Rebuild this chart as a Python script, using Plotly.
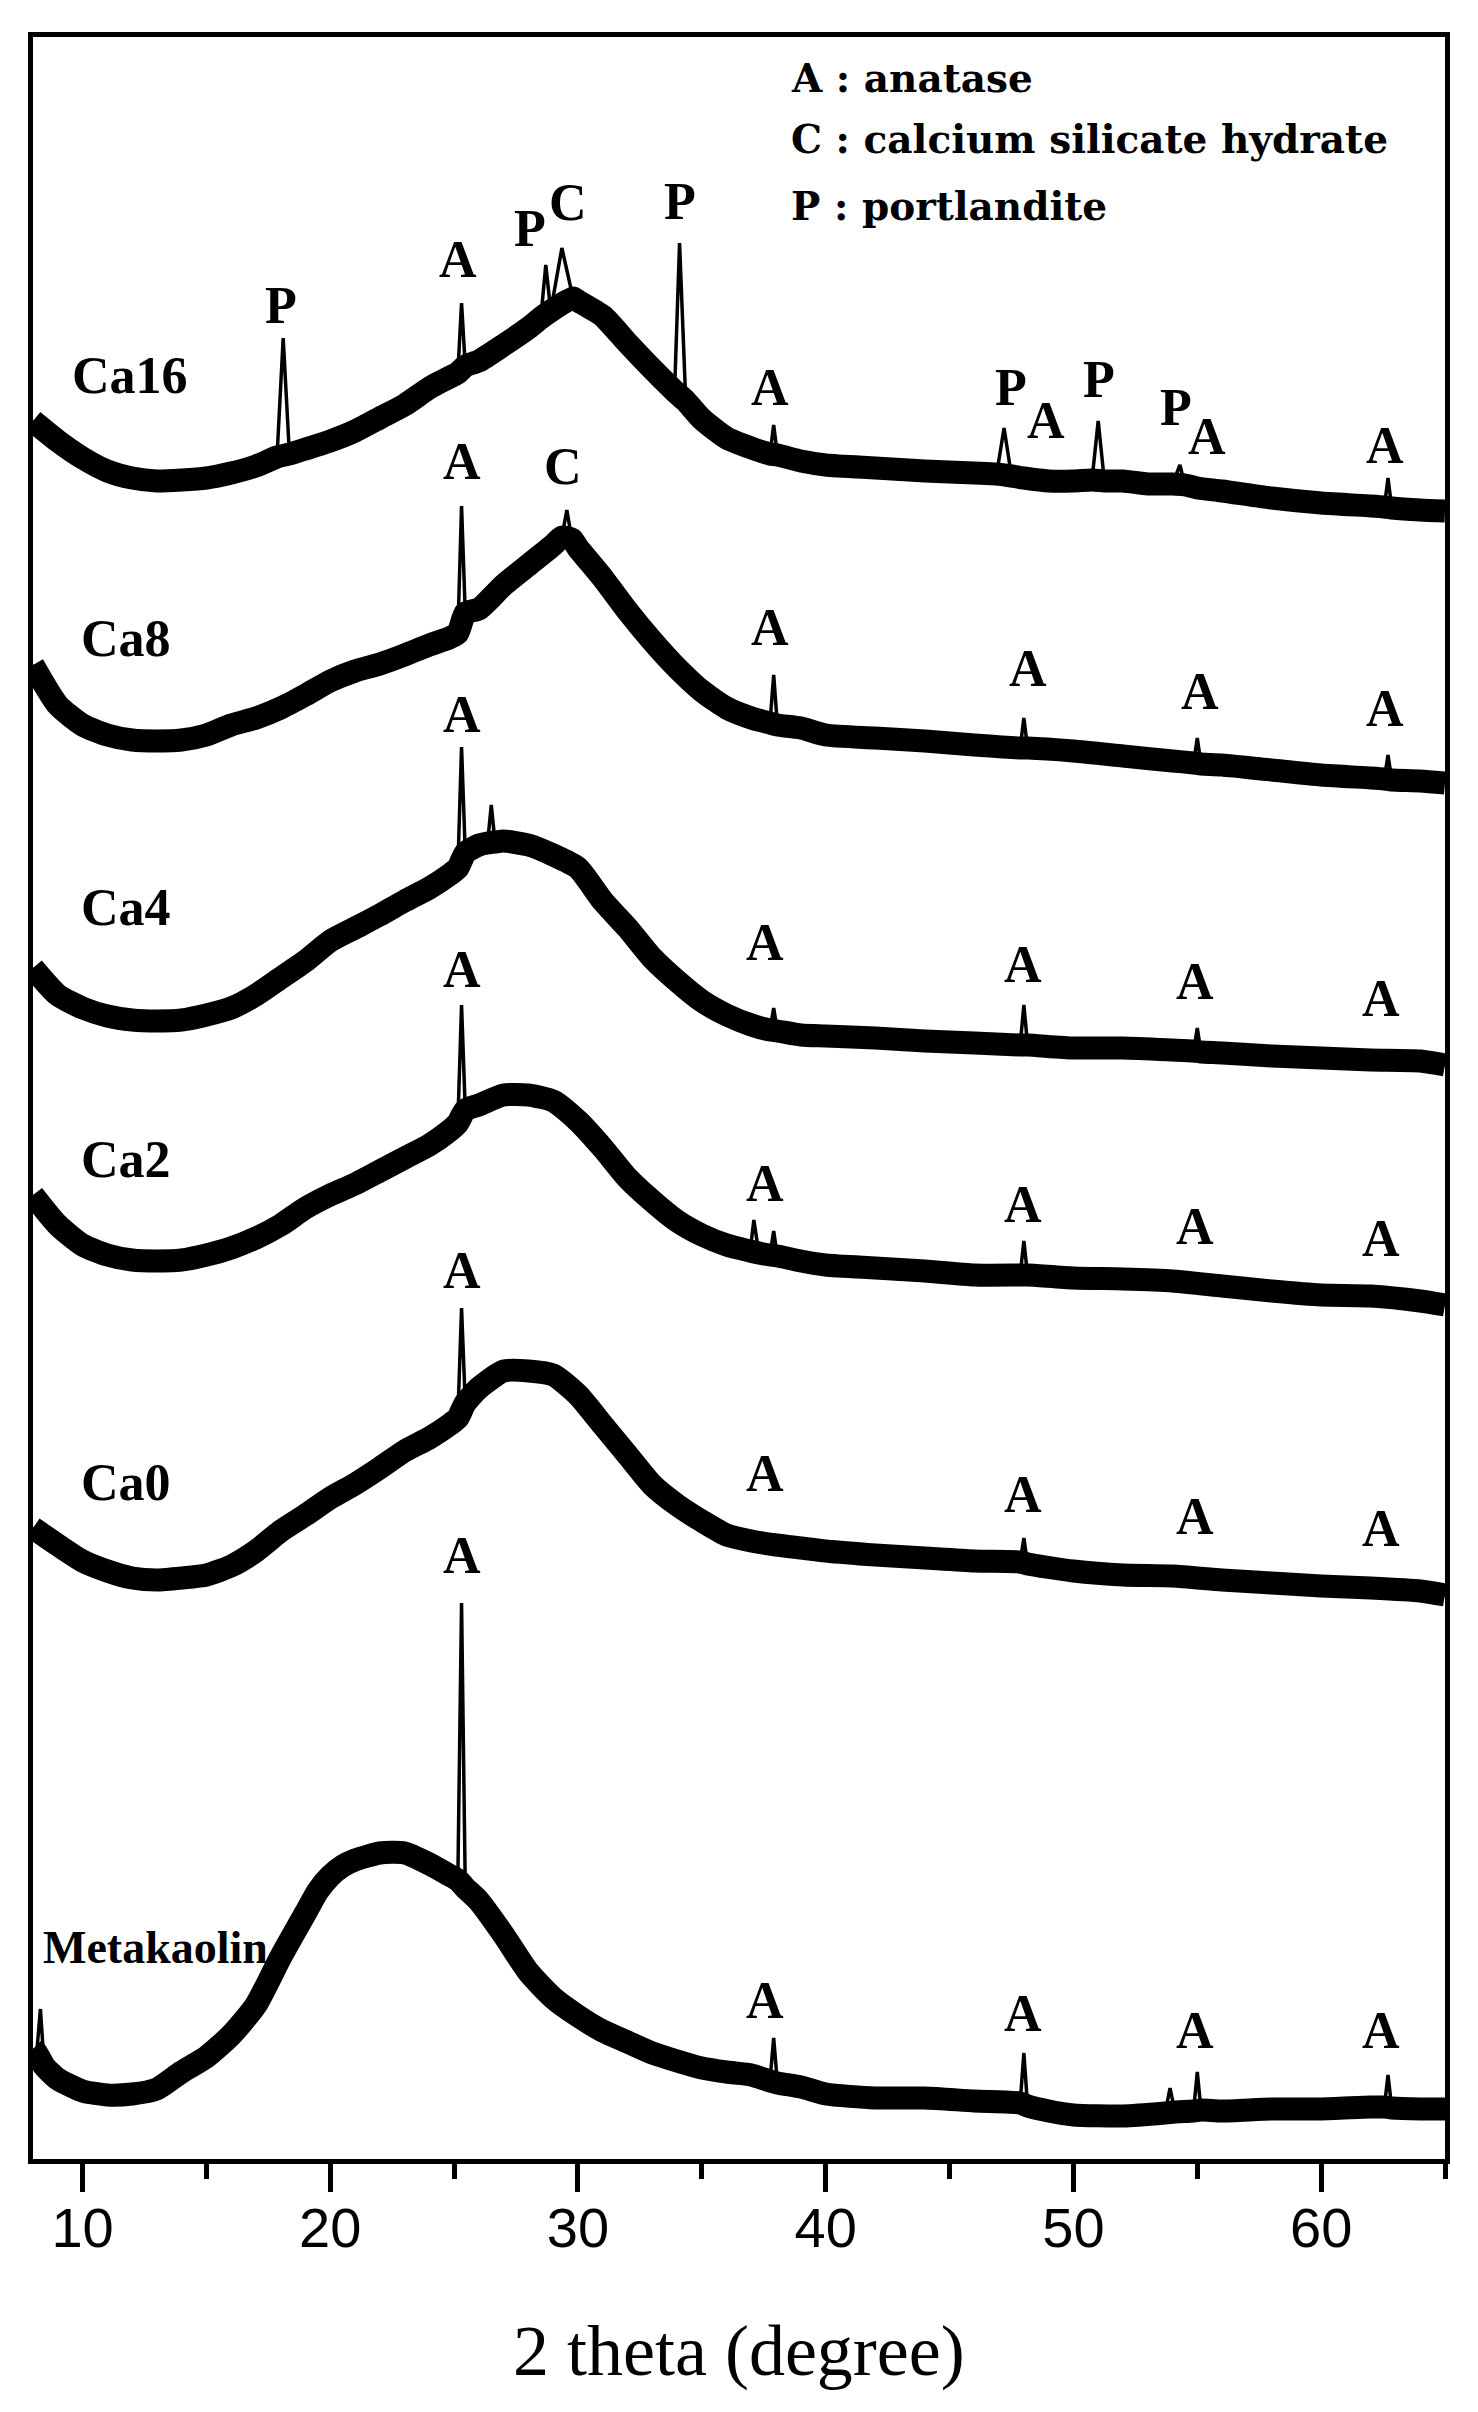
import plotly.graph_objects as go

# ---------------- data (intensity in arbitrary, stacked units) ----------------
x_range = [8, 65]
x_ticks = [10, 20, 30, 40, 50, 60]

samples = ["Ca16", "Ca8", "Ca4", "Ca2", "Ca0", "Metakaolin"]

# Ca16
ca16_base_x = [8, 9, 10, 11, 12, 13, 14, 15, 16, 17, 17.85, 18.35, 19, 20, 21, 22, 23, 24, 25, 25.15, 25.45,
               26, 27, 28, 28.5, 28.9, 29.8, 30, 31, 32, 33, 33.9, 34.35, 35, 36, 37, 37.75, 38.05, 39, 40,
               42, 44, 46, 46.9, 47.5, 48, 49, 50, 50.75, 51.25, 52, 53, 54, 54.5, 55, 56, 58, 60, 62,
               62.55, 62.85, 64, 65]
ca16_base_y = [1740, 1720, 1703, 1690, 1683, 1680, 1681, 1683, 1688, 1695, 1704, 1707, 1712, 1720, 1730, 1743,
               1756, 1773, 1786, 1788, 1795, 1800, 1816, 1833, 1843, 1850, 1863, 1860, 1845, 1818, 1792, 1770,
               1760, 1742, 1723, 1713, 1707, 1706, 1700, 1696, 1693, 1690, 1688, 1687, 1685, 1683, 1680, 1680,
               1681, 1680, 1680, 1677, 1677, 1676, 1673, 1670, 1663, 1658, 1655, 1654, 1653, 1651, 1650]
ca16_peak_x = [18.1, 25.3, 28.7, 29.35, 34.1, 37.9, 47.2, 51.0, 54.3, 62.7]
ca16_peak_y = [1823, 1858, 1896, 1913, 1918, 1736, 1733, 1740, 1696, 1683]

# Ca8
ca8_base_x = [8, 9, 10, 11, 12, 13, 14, 15, 16, 17, 18, 19, 20, 21, 22, 23, 24, 24.8, 25.15, 25.45, 26, 27,
              28, 29, 29.35, 29.75, 30, 31, 32, 33, 34, 35, 36, 37, 37.75, 38.05, 39, 40, 42, 44, 46, 47.85,
              48.15, 50, 52, 54, 54.85, 55.15, 56, 58, 60, 62, 62.55, 62.85, 64, 65]
ca8_base_y = [1496, 1456, 1436, 1426, 1421, 1420, 1421, 1426, 1436, 1443, 1453, 1466, 1480, 1490, 1497, 1506,
              1516, 1523, 1528, 1548, 1552, 1576, 1596, 1616, 1624, 1622, 1613, 1583, 1550, 1520, 1493, 1470,
              1453, 1443, 1438, 1436, 1433, 1426, 1423, 1420, 1416, 1413, 1413, 1410, 1405, 1400, 1398, 1397,
              1396, 1391, 1386, 1383, 1382, 1381, 1380, 1378]
ca8_peak_x = [25.3, 29.55, 37.9, 48.0, 55.0, 62.7]
ca8_peak_y = [1655, 1651, 1486, 1443, 1423, 1406]

# Ca4
ca4_base_x = [8, 9, 10, 11, 12, 13, 14, 15, 16, 17, 18, 19, 20, 21, 22, 23, 24, 24.8, 25.15, 25.45, 26,
              26.35, 26.65, 27, 28, 29, 30, 31, 32, 33, 34, 35, 36, 37, 37.75, 38.05, 39, 40, 42, 44, 46,
              47.85, 48.15, 50, 52, 54, 54.85, 55.15, 56, 58, 60, 62, 64, 65]
ca4_base_y = [1193, 1166, 1153, 1145, 1141, 1140, 1141, 1146, 1153, 1166, 1183, 1200, 1220, 1233, 1246, 1260,
              1273, 1286, 1293, 1308, 1316, 1318, 1319, 1320, 1316, 1306, 1293, 1260, 1233, 1203, 1180, 1160,
              1146, 1136, 1131, 1130, 1126, 1125, 1123, 1120, 1118, 1116, 1116, 1113, 1113, 1111, 1110, 1109,
              1108, 1105, 1103, 1101, 1100, 1096]
ca4_peak_x = [25.3, 26.5, 37.9, 48.0, 55.0]
ca4_peak_y = [1414, 1356, 1153, 1156, 1133]

# Ca2
ca2_base_x = [8, 9, 10, 11, 12, 13, 14, 15, 16, 17, 18, 19, 20, 21, 22, 23, 24, 24.8, 25.15, 25.45, 26, 27,
              28, 29, 30, 31, 32, 33, 34, 35, 36, 36.95, 37.3, 37.75, 38.05, 39, 40, 42, 44, 46, 47.85, 48.15,
              50, 52, 54, 56, 58, 60, 62, 64, 65]
ca2_base_y = [966, 936, 916, 906, 901, 900, 901, 906, 913, 923, 936, 953, 966, 977, 990, 1003, 1016, 1030,
              1038, 1051, 1056, 1066, 1066, 1060, 1040, 1013, 983, 960, 940, 926, 916, 910, 908, 906, 905,
              900, 896, 893, 890, 886, 886, 886, 883, 882, 880, 875, 870, 866, 865, 860, 856]
ca2_peak_x = [25.3, 37.1, 37.9, 48.0]
ca2_peak_y = [1156, 941, 930, 920]

# Ca0
ca0_base_x = [8, 9, 10, 11, 12, 13, 14, 15, 16, 17, 18, 19, 20, 21, 22, 23, 24, 24.8, 25.15, 25.45, 26, 27,
              28, 29, 30, 31, 32, 33, 34, 35, 36, 37, 38, 39, 40, 42, 44, 46, 47.85, 48.15, 50, 52, 54, 56,
              58, 60, 62, 64, 65]
ca0_base_y = [633, 616, 600, 590, 583, 581, 583, 586, 595, 610, 630, 646, 663, 677, 693, 710, 723, 736, 743,
              758, 773, 790, 790, 786, 766, 736, 706, 676, 656, 640, 626, 620, 616, 613, 610, 606, 603, 600,
              599, 597, 590, 586, 585, 581, 578, 575, 573, 570, 566]
ca0_peak_x = [25.3, 48.0]
ca0_peak_y = [853, 623]

# Metakaolin
mk_base_x = [8, 8.15, 8.45, 9, 10, 11, 12, 13, 14, 15, 16, 17, 18, 19, 19.5, 20, 20.5, 21, 22, 23, 24, 24.8,
             25.15, 25.45, 26, 27, 28, 29, 30, 31, 32, 33, 34, 35, 36, 37, 37.75, 38.05, 39, 40, 42, 44, 46,
             47.85, 48.15, 49, 50, 52, 53.7, 54.1, 54.85, 55.15, 56, 58, 60, 62, 62.55, 62.85, 64, 65]
mk_base_y = [112, 108, 95, 82, 70, 66, 67, 72, 89, 104, 126, 156, 204, 248, 270, 285, 295, 301, 308, 308, 297,
             286, 281, 273, 260, 226, 189, 163, 145, 130, 119, 108, 100, 93, 89, 86, 80, 78, 74, 67, 63, 63,
             60, 58, 55, 50, 46, 45, 48, 49, 50, 51, 50, 52, 52, 54, 54, 53, 52, 52]
mk_peak_x = [8.3, 25.3, 37.9, 48.0, 53.9, 55.0, 62.7]
mk_peak_y = [152, 558, 123, 108, 73, 89, 86]

# sample name labels (left x in degrees, y)
sample_label_x = [9.48, 9.86, 9.86, 9.86, 9.86, 8.31]
sample_label_y = [1786, 1523, 1254, 1002, 679, 214]

# phase letters above reflections
phase_text = (["P", "A", "P", "C", "P", "A", "P", "A", "P", "P", "A", "A"] +
              ["A", "C", "A", "A", "A", "A"] +
              ["A", "A", "A", "A", "A"] +
              ["A", "A", "A", "A", "A"] +
              ["A", "A", "A", "A", "A"] +
              ["A", "A", "A", "A", "A"])
phase_x = ([18.02, 25.15, 28.07, 29.58, 34.1, 37.74, 47.5, 48.9, 51.02, 54.15, 55.4, 62.59] +
           [25.3, 29.4, 37.74, 48.17, 55.1, 62.59] +
           [25.3, 37.55, 47.98, 54.92, 62.4] +
           [25.3, 37.55, 47.98, 54.9, 62.4] +
           [25.3, 37.55, 47.98, 54.9, 62.4] +
           [25.3, 37.55, 47.98, 54.9, 62.4])
phase_y = ([1856, 1902, 1933, 1959, 1960, 1774, 1774, 1741, 1782, 1754, 1725, 1716] +
           [1700, 1695, 1534, 1493, 1470, 1453] +
           [1447, 1219, 1197, 1180, 1163] +
           [1192, 978, 957, 935, 923] +
           [891, 688, 667, 645, 633] +
           [606, 161, 148, 131, 131])

legend_lines = ["A : anatase", "C : calcium silicate hydrate", "P : portlandite"]
legend_x = 38.5
legend_y = [2083, 2022, 1955]

x_title = "2 theta (degree)"

# ---------------- figure ----------------
series = [
    (ca16_base_x, ca16_base_y, ca16_peak_x, ca16_peak_y),
    (ca8_base_x, ca8_base_y, ca8_peak_x, ca8_peak_y),
    (ca4_base_x, ca4_base_y, ca4_peak_x, ca4_peak_y),
    (ca2_base_x, ca2_base_y, ca2_peak_x, ca2_peak_y),
    (ca0_base_x, ca0_base_y, ca0_peak_x, ca0_peak_y),
    (mk_base_x, mk_base_y, mk_peak_x, mk_peak_y),
]

fig = go.Figure()
for name, (bx, by, px, py) in zip(samples, series):
    # broad, noisy amorphous band
    fig.add_trace(go.Scatter(x=bx, y=by, mode="lines", name=name,
                             line=dict(color="black", width=23, shape="spline", smoothing=0.6),
                             hoverinfo="skip"))
    # sharp reflections
    pts = sorted(list(zip(bx, by)) + list(zip(px, py)))
    fig.add_trace(go.Scatter(x=[p[0] for p in pts], y=[p[1] for p in pts], mode="lines",
                             name=name, line=dict(color="black", width=3.5)))

serif_bold = dict(family="Liberation Serif", size=52, color="black", weight="bold")
annotations = []
for t, x, y in zip(samples, sample_label_x, sample_label_y):
    f = dict(serif_bold)
    if t == "Metakaolin":
        f["size"] = 46
    annotations.append(dict(x=x, y=y, text=t, showarrow=False, xanchor="left", yanchor="middle", font=f))
for t, x, y in zip(phase_text, phase_x, phase_y):
    annotations.append(dict(x=x, y=y, text=t, showarrow=False, xanchor="center", yanchor="middle",
                            font=serif_bold))
for t, y in zip(legend_lines, legend_y):
    annotations.append(dict(x=legend_x, y=y, text=t, showarrow=False, xanchor="left", yanchor="middle",
                            font=dict(family="DejaVu Serif", size=39, color="black", weight="bold")))
annotations.append(dict(x=0.5, y=-0.0905, xref="paper", yref="paper", text=x_title, showarrow=False,
                        xanchor="center", yanchor="middle",
                        font=dict(family="Liberation Serif", size=72, color="black")))

fig.update_layout(
    width=1478, height=2412,
    margin=dict(l=25, r=41, t=29, b=261),
    paper_bgcolor="white", plot_bgcolor="white",
    showlegend=False,
    annotations=annotations,
    xaxis=dict(range=x_range, tickvals=x_ticks, ticks="outside", ticklen=28, tickwidth=5,
               tickcolor="black", showline=True, linewidth=5, linecolor="black", mirror=True,
               showgrid=False, zeroline=False, ticklabelstandoff=-12,
               tickfont=dict(family="Liberation Sans", size=56, color="black"),
               minor=dict(dtick=5, tick0=0, ticks="outside", ticklen=15, tickwidth=5,
                          tickcolor="black", showgrid=False)),
    yaxis=dict(range=[2, 2124], showticklabels=False, ticks="", showline=True, linewidth=5,
               linecolor="black", mirror=True, showgrid=False, zeroline=False),
)

fig.write_html("out.html")
